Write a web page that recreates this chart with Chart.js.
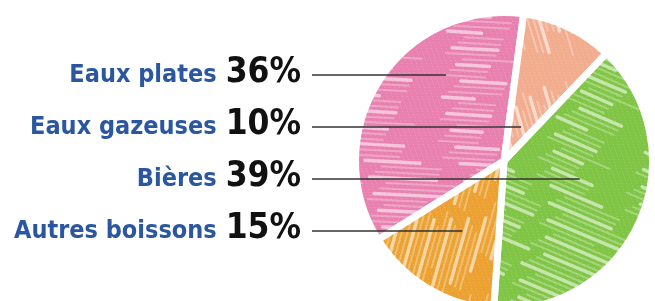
<!DOCTYPE html>
<html lang="fr">
<head>
  <meta charset="UTF-8" />
  <title>Répartition des boissons</title>
  <script src="https://cdn.jsdelivr.net/npm/chart.js"></script>
  <style>
    html, body {
      margin: 0;
      padding: 0;
      background: #fff;
      overflow: hidden;
      width: 655px;
      height: 301px;
    }
    #wrap {
      position: absolute;
      left: 0;
      top: 0;
      width: 660px;
      height: 330px;
    }
  </style>
</head>
<body>
<div id="wrap">
  <canvas id="pie" width="660" height="330"></canvas>
</div>

<script>
// data, in label order (top to bottom)
const categories = ['Eaux plates', 'Eaux gazeuses', 'Bières', 'Autres boissons'];
const shares = [36, 10, 39, 15];

// crayon-ish colours and stroke direction of the hatching
const sliceColors = ['#e981b0', '#f2ad8f', '#80c546', '#eca232'];
const hatchAngle = [2, 72, 22, 105];
// where each leader line ends, as a fraction of the radius from the centre (x)
const leaderEnd = [-0.39, 0.115, 0.51, -0.28];

// one big texture the size of the canvas, so no tile seams show
function crayon(color, angle) {
  const c = document.createElement('canvas');
  c.width = 660; c.height = 330;
  const g = c.getContext('2d');
  g.fillStyle = color;
  g.fillRect(0, 0, 660, 330);
  g.save();
  g.translate(500, 165);
  g.rotate(angle * Math.PI / 180);
  g.lineCap = 'round';
  for (let k = -70; k <= 70; k++) {
    const wide = (k % 3 === 0);
    g.strokeStyle = wide ? 'rgba(255,255,255,0.55)' : 'rgba(255,255,255,0.28)';
    g.lineWidth = wide ? 3.5 : 2;
    for (let s = -420; s < 420; s += 95) {
      const a = s + ((k * 17) % 23);
      const b = a + 55 + ((k * 29) % 25);
      g.beginPath();
      g.moveTo(a, k * 5.5);
      g.lineTo(b, k * 5.5 + 1);
      g.stroke();
    }
  }
  g.restore();
  g.fillStyle = 'rgba(255,255,255,0.18)';
  for (let y = 0; y < 330; y += 3) {
    for (let x = (y * 7) % 5; x < 660; x += 5) g.fillRect(x, y, 1, 1);
  }
  return g.createPattern(c, 'no-repeat');
}

const labelPlugin = {
  id: 'labels',
  afterDraw(chart) {
    const ctx = chart.ctx;
    const arcs = chart.getDatasetMeta(0).data;
    ctx.save();
    categories.forEach((name, i) => {
      const base = 82 + 52 * i;
      const pct = shares[i] + '%';
      ctx.textBaseline = 'alphabetic';
      ctx.textAlign = 'right';
      ctx.font = 'bold 35px "DejaVu Sans Condensed", "DejaVu Sans", sans-serif';
      ctx.fillStyle = '#111';
      ctx.fillText(pct, 301, base);
      const w = ctx.measureText(pct).width;
      ctx.font = 'bold 25px "DejaVu Sans Condensed", "DejaVu Sans", sans-serif';
      ctx.fillStyle = '#2b56a0';
      ctx.fillText(name, 301 - w - 9, base);

      const a = arcs[i];
      const r = a.outerRadius;
      ctx.strokeStyle = '#333';
      ctx.lineWidth = 1.4;
      ctx.beginPath();
      ctx.moveTo(312, base - 7);
      ctx.lineTo(a.x + leaderEnd[i] * r, base - 7);
      ctx.stroke();
    });
    ctx.restore();
  }
};

new Chart(document.getElementById('pie'), {
  type: 'pie',
  data: {
    labels: categories,
    datasets: [{
      data: shares,
      backgroundColor: sliceColors.map((c, i) => crayon(c, hatchAngle[i])),
      borderColor: '#fff',
      borderWidth: 7
    }]
  },
  options: {
    responsive: false,
    devicePixelRatio: 1,
    animation: false,
    rotation: 238,
    layout: { padding: { left: 352, right: 4, top: 9, bottom: 17 } },
    plugins: {
      legend: { display: false },
      tooltip: { enabled: false }
    },
    events: []
  },
  plugins: [labelPlugin]
});
</script>
</body>
</html>
